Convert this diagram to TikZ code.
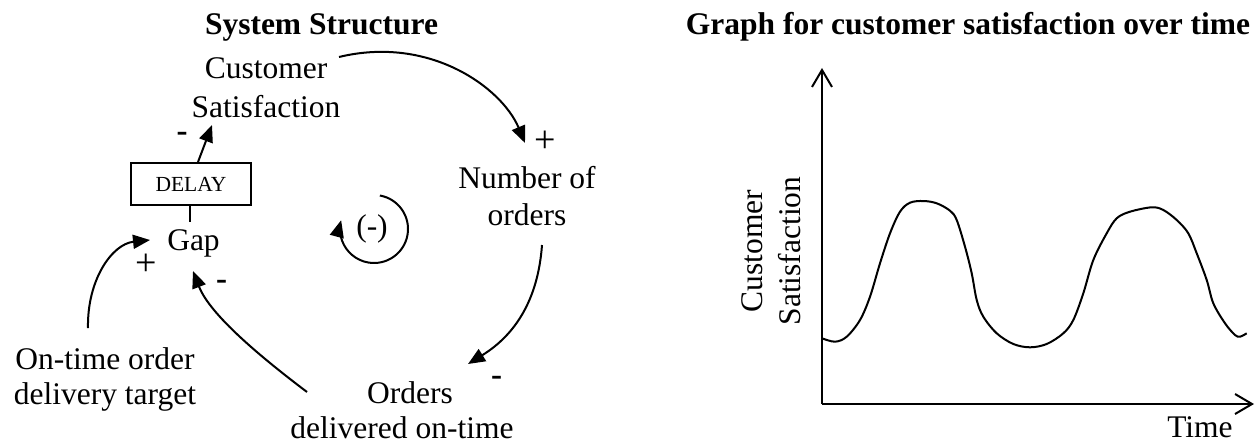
\documentclass[tikz,border=0pt]{standalone}
\usepackage{fontspec}
\setmainfont{Liberation Serif}
\usetikzlibrary{arrows.meta}
\begin{document}
\begin{tikzpicture}[x=1pt,y=-1pt,
  every node/.style={inner sep=0pt},
  lbl/.style={anchor=base, font=\fontsize{31.5}{36}\selectfont},
  sign/.style={anchor=center, font=\fontsize{31.5}{36}\selectfont},
  psign/.style={anchor=center, font=\fontsize{38}{40}\selectfont},
  dsign/.style={anchor=center, font=\fontsize{33}{36}\selectfont\bfseries},
  ttl/.style={anchor=base, font=\fontsize{31.5}{36}\selectfont\bfseries},
  link/.style={line width=2pt, -{Triangle[length=17pt,width=14pt]}},
  axis/.style={line width=2pt, -{Straight Barb[length=17pt,width=20pt]}},
  delaybox/.style={draw, line width=2pt, minimum width=120pt, minimum height=42pt,
    font=\fontsize{21.5}{24}\selectfont}
]
\useasboundingbox (0,0) rectangle (1260,444);

% titles
\node[ttl] (t1) at (321.5,35) {System Structure};
\node[ttl] (t2) at (968,35) {Graph for customer satisfaction over time};

% causal loop variables
\node[lbl] (cs)   at (266,78)  {Customer};
\node[lbl] (cs2)  at (266,117) {Satisfaction};
\node[lbl] (noo)  at (527,188) {Number of};
\node[lbl] (noo2) at (527,225) {orders};
\node[lbl] (odt)  at (410,403) {Orders};
\node[lbl] (odt2) at (402,438) {delivered on-time};
\node[lbl] (gap)  at (193.5,250) {Gap};
\node[lbl] (tgt)  at (105,369) {On-time order};
\node[lbl] (tgt2) at (105,404) {delivery target};
\node[delaybox] (delay) at (191,184) {DELAY};
\node[sign] (loop) at (372,229) {(-)};

% polarity marks
\node[psign] (p1) at (146,265)   {+};
\node[psign] (p2) at (545,142)   {+};
\node[dsign] (m1) at (182,136.5) {-};
\node[dsign] (m2) at (221.5,285) {-};
\node[dsign] (m3) at (496.5,381) {-};

% causal links
\draw[link] ([shift={(73,-21)}]cs.base) .. controls +(91,-22) and +(-23,-55) .. ([shift={(-2,-45)}]noo.base);
\draw[link] ([shift={(15,20)}]noo2.base) .. controls +(-4,55) and +(47,-29) .. ([shift={(58,-39)}]odt.base);
\draw[link] ([shift={(-95,-46)}]odt2.base) .. controls +(-45,-34) and +(17,44) .. ([shift={(-0.5,21)}]gap.base);
\draw[link] ([shift={(-17,-41)}]tgt.base) .. controls +(-1,-48) and +(-38,4) .. ([shift={(-43.5,-10)}]gap.base);
\draw[line width=2pt] ([xshift=-1]delay.south) -- ([shift={(-3.5,-28)}]gap.base);
\draw[link] ([xshift=7]delay.north) -- ([shift={(-54,8)}]cs2.base);

% loop polarity arrow
\draw[link] ([shift={(-80:34)}]loop.center) ++(2,0) arc[start angle=-80, end angle=195, radius=34];

% graph
\coordinate (o) at (822,404);
\draw[axis] (o) -- (822,68);
\draw[axis] (o) -- (1254,404);
\node[lbl, rotate=90] (yl1) at (762,251) {Customer};
\node[lbl, rotate=90] (yl2) at (800,251) {Satisfaction};
\node[lbl] (xl) at (1200,437) {Time};
\draw[line width=2pt, line join=round] plot[smooth, tension=0.55] coordinates {
  (822,338.3) (835,341.7) (846.7,336.7) (860,320) (870,296.7) (880,263.3)
  (890,233.3) (900,211.7) (910,202.7) (923.3,201) (936.7,203.3) (950,210.7)
  (956.7,220) (965,246.7) (971.7,273.3) (976.7,300) (983.3,316.7) (996.7,333.3)
  (1013.3,344) (1030,347.3) (1046.7,344) (1063.3,333.3) (1073.3,320) (1083.3,293.3)
  (1093.3,260) (1106.7,233.3) (1116.7,218.3) (1130,211.7) (1151.7,207.3) (1163.3,210)
  (1176.7,220) (1188.3,233.3) (1196.7,253.3) (1206.7,280) (1213.3,303.3) (1225,323.3)
  (1235,335) (1240,336.7) (1246.7,333.3)};
\end{tikzpicture}
\end{document}
